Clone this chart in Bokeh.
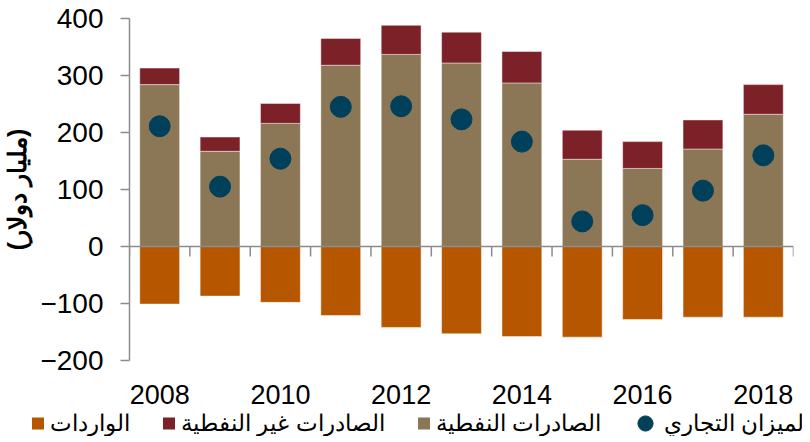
from bokeh.plotting import figure
from bokeh.layouts import column
from bokeh.models import (Range1d, FixedTicker, Legend, LegendItem, ColumnDataSource, Span)
from bokeh.embed import file_html
from bokeh.resources import INLINE

years = [2008, 2009, 2010, 2011, 2012, 2013, 2014, 2015, 2016, 2017, 2018]
oil_exports = [284, 167, 216, 318, 337, 322, 287, 153, 137, 171, 232]
nonoil_exports = [29, 25, 35, 47, 51, 54, 55, 51, 47, 51, 52]
imports = [-101, -87, -98, -121, -142, -153, -158, -159, -128, -124, -124]
trade_balance = [211, 105, 154, 245, 246, 223, 184, 44, 55, 98, 160]

tick_years = [2008, 2010, 2012, 2014, 2016, 2018]
tick_labels = ["2008", "2010", "2012", "2014", "2016", "2018"]
y_ticks = [-200, -100, 0, 100, 200, 300, 400]

y_label = "(مليار دولار)"
name_balance = "الميزان التجاري"
name_oil = "الصادرات النفطية"
name_nonoil = "الصادرات غير النفطية"
name_imports = "الواردات"

C_OIL = "#8B7755"
C_NONOIL = "#7C2128"
C_IMP = "#B65700"
C_BAL = "#01405A"
AXIS = "#8c8c8c"
FONT = "Liberation Sans"

FRAME_W, FRAME_H = 664, 342
LEFT, RIGHT, TOP, BOTTOM = 128, 10, 18, 50
LEG_H = 26

src = ColumnDataSource(dict(
    x=years,
    oil=oil_exports,
    nonoil=nonoil_exports,
    total=[a + b for a, b in zip(oil_exports, nonoil_exports)],
    imp=imports,
    bal=trade_balance,
))

p = figure(
    frame_width=FRAME_W, frame_height=FRAME_H,
    min_border_left=LEFT, min_border_right=RIGHT, min_border_top=TOP, min_border_bottom=BOTTOM,
    x_range=Range1d(years[0] - 0.5, years[-1] + 0.5),
    y_range=Range1d(y_ticks[0], y_ticks[-1]),
    output_backend="svg", toolbar_location=None,
)
p.outline_line_color = None
p.grid.visible = False

w = 0.66
bar_line = dict(line_color="white", line_alpha=0.45, line_width=1)
r_oil = p.vbar(x="x", bottom=0, top="oil", width=w, source=src, fill_color=C_OIL, **bar_line)
r_non = p.vbar(x="x", bottom="oil", top="total", width=w, source=src, fill_color=C_NONOIL, **bar_line)
r_imp = p.vbar(x="x", bottom=0, top="imp", width=w, source=src, fill_color=C_IMP, **bar_line)

# zero line with category-boundary tick marks
p.add_layout(Span(location=0, dimension="width", line_color=AXIS, line_width=1.5))
bounds = [y - 0.5 for y in years] + [years[-1] + 0.5]
tick_len = 10 * (y_ticks[-1] - y_ticks[0]) / FRAME_H
p.segment(x0=bounds, y0=[0] * len(bounds), x1=bounds, y1=[-tick_len] * len(bounds),
          line_color=AXIS, line_width=1.5)

r_bal = p.scatter(x="x", y="bal", source=src, size=21, marker="circle",
                  fill_color=C_BAL, line_color=C_BAL)

# y axis
ya = p.yaxis[0]
ya.ticker = FixedTicker(ticks=y_ticks)
ya.minor_tick_line_color = None
ya.major_tick_in = 0
ya.major_tick_out = 9
ya.axis_line_color = AXIS
ya.axis_line_width = 1.5
ya.major_tick_line_color = AXIS
ya.major_tick_line_width = 1.5
ya.major_label_text_font = FONT
ya.major_label_text_font_size = "28px"
ya.major_label_text_color = "black"
ya.major_label_standoff = 17
ya.axis_label = y_label
ya.axis_label_text_font = FONT
ya.axis_label_text_font_size = "25px"
ya.axis_label_text_font_style = "bold"
ya.axis_label_text_color = "black"
ya.axis_label_standoff = 6

# bottom label axis
xa = p.xaxis[0]
xa.ticker = FixedTicker(ticks=tick_years)
xa.major_label_overrides = {t: l for t, l in zip(tick_years, tick_labels)}
xa.axis_line_color = None
xa.major_tick_line_color = None
xa.minor_tick_line_color = None
xa.major_label_text_font = FONT
xa.major_label_text_font_size = "27px"
xa.major_label_text_color = "black"
xa.major_label_standoff = 18

# legend strip underneath (separate small figure; its proxies sit outside its view)
lg = figure(width=LEFT + FRAME_W + RIGHT, height=LEG_H, min_border=0,
            x_range=Range1d(0, 1), y_range=Range1d(0, 1),
            output_backend="svg", toolbar_location=None,
            x_axis_type=None, y_axis_type=None)
lg.outline_line_color = None
lg.grid.visible = False
try:
    p.frame_align = False
    lg.frame_align = False
except AttributeError:
    pass

g_imp = lg.vbar(x="x", top="imp", width=w, source=src, fill_color=C_IMP, line_color=None)
g_non = lg.vbar(x="x", top="nonoil", width=w, source=src, fill_color=C_NONOIL, line_color=None)
g_oil = lg.vbar(x="x", top="oil", width=w, source=src, fill_color=C_OIL, line_color=None)
g_bal = lg.scatter(x="x", y="bal", source=src, size=21, marker="circle",
                   fill_color=C_BAL, line_color=C_BAL)

def style_legend(l):
    l.label_text_font = FONT
    l.label_text_font_size = "23px"
    l.label_text_color = "black"
    l.padding = 0
    l.border_line_color = None
    l.background_fill_alpha = 0
    l.orientation = "horizontal"

legend1 = Legend(items=[
    LegendItem(label=name_imports, renderers=[g_imp]),
    LegendItem(label=name_nonoil, renderers=[g_non]),
    LegendItem(label=name_oil, renderers=[g_oil]),
], location="center_left")
style_legend(legend1)
legend1.glyph_width = 15
legend1.glyph_height = 15
legend1.label_standoff = 5
legend1.spacing = 31
legend1.margin = 30
lg.add_layout(legend1, "center")

# circle item: a larger glyph box so the legend circle is ~15px across,
# vertically centred on the strip (legend top = strip centre - box/2)
CIRCLE_BOX = 38
legend2 = Legend(items=[LegendItem(label=name_balance, renderers=[g_bal])],
                 location=(626, LEG_H // 2 - CIRCLE_BOX // 2))
style_legend(legend2)
legend2.glyph_width = CIRCLE_BOX
legend2.glyph_height = CIRCLE_BOX
legend2.label_standoff = 0
legend2.margin = 0
lg.add_layout(legend2, "center")

layout = column(p, lg, spacing=0)
open("out.html", "w").write(file_html(layout, INLINE))
